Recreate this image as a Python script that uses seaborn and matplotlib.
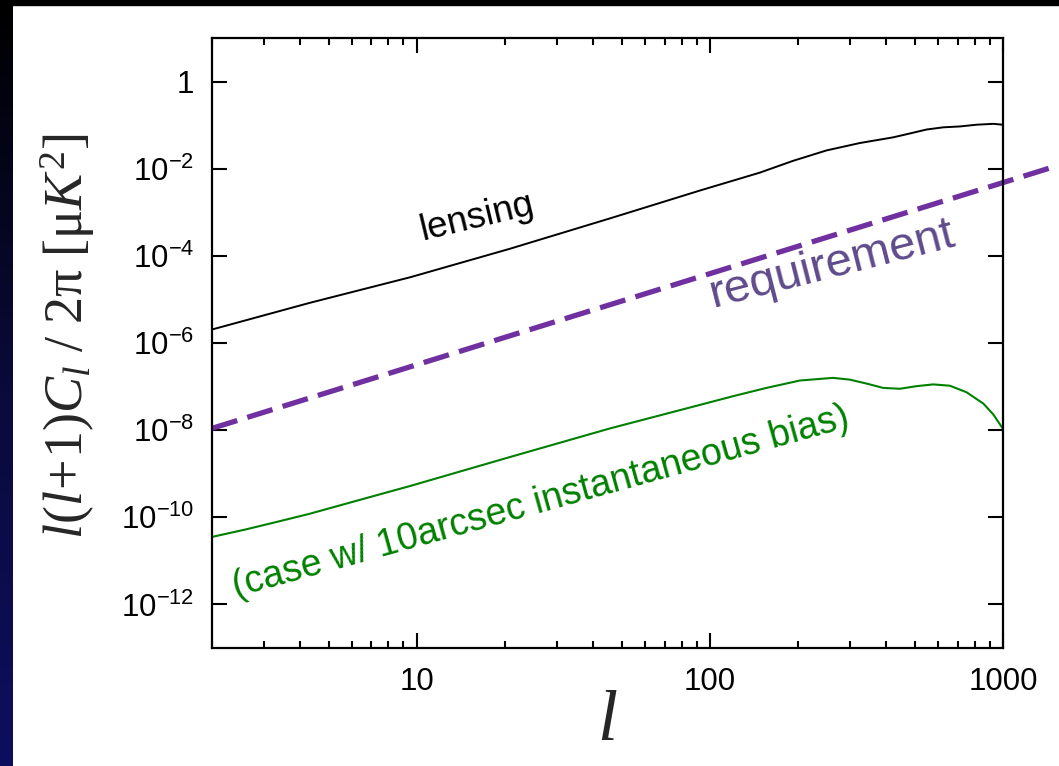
import numpy as np
import pandas as pd
import matplotlib
matplotlib.use("Agg")
import matplotlib.pyplot as plt
import seaborn as sns
from matplotlib.colors import LinearSegmentedColormap
from matplotlib.patches import Rectangle
from matplotlib.ticker import FixedLocator, FixedFormatter, LogLocator, NullFormatter, NullLocator

# ---- data (multipole l, log10 of l(l+1)C_l/2pi) ----
lens_l = [2, 4.3, 9.5, 20.7, 45.6, 92.5, 148, 192, 250, 325, 422, 482, 549, 626, 713, 813, 927, 1000]
lens_log10 = [-5.69, -5.08, -4.49, -3.84, -3.14, -2.50, -2.09, -1.82, -1.58, -1.41, -1.28, -1.19,
              -1.10, -1.05, -1.03, -0.99, -0.97, -0.99]

bias_l = [2, 2.6, 3.4, 4.3, 7.5, 9.5, 20.7, 45.6, 92.5, 120, 156, 203, 263, 300, 342, 390, 445, 507,
          578, 659, 751, 857, 927, 1000]
bias_log10 = [-10.45, -10.28, -10.09, -9.92, -9.47, -9.28, -8.62, -7.96, -7.42, -7.22, -7.03, -6.86,
              -6.80, -6.84, -6.93, -7.03, -7.05, -6.99, -6.95, -6.98, -7.13, -7.39, -7.64, -7.97]

req_l = [2, 1550]
req_val = [1.1e-8, 1.2e-2]

ytick_vals = [1, 1e-2, 1e-4, 1e-6, 1e-8, 1e-10, 1e-12]
ytick_text = ["1", r"$\mathsf{10^{-2}}$", r"$\mathsf{10^{-4}}$", r"$\mathsf{10^{-6}}$",
              r"$\mathsf{10^{-8}}$", r"$\mathsf{10^{-10}}$", r"$\mathsf{10^{-12}}$"]
xtick_vals = [10, 100, 1000]
xtick_text = ["10", "100", "1000"]

lens = pd.DataFrame({"l": lens_l, "cl": np.power(10.0, lens_log10)})
bias = pd.DataFrame({"l": bias_l, "cl": np.power(10.0, bias_log10)})
req = pd.DataFrame({"l": req_l, "cl": req_val})

sns.set_theme(style="ticks")
plt.rcParams["font.family"] = ["Liberation Sans", "DejaVu Sans"]
plt.rcParams["mathtext.fontset"] = "custom"
plt.rcParams["mathtext.rm"] = "Liberation Serif"
plt.rcParams["mathtext.it"] = "Liberation Serif:italic"
plt.rcParams["mathtext.bf"] = "Liberation Serif:bold"
plt.rcParams["mathtext.sf"] = "Liberation Sans"

fig = plt.figure(figsize=(10.59, 7.66), dpi=100, facecolor="white")
ax = fig.add_axes([0.2002, 0.1540, 0.7469, 0.7964])

# slide background edges
fig.patches.append(Rectangle((0, 1 - 5 / 766), 1, 5 / 766, transform=fig.transFigure,
                             color="black", zorder=0))
side = fig.add_axes([0, 0, 13 / 1059, 1])
navy = LinearSegmentedColormap.from_list("navy", ["#000000", "#0a0a3a", "#0e0e60"])
side.imshow(np.linspace(0, 1, 256).reshape(-1, 1), aspect="auto", cmap=navy)
side.set_axis_off()

sns.lineplot(data=lens, x="l", y="cl", color="black", linewidth=1.4, ax=ax)
sns.lineplot(data=bias, x="l", y="cl", color="#008000", linewidth=1.5, ax=ax)
sns.lineplot(data=req, x="l", y="cl", color="#7030A0", linewidth=3.8,
             linestyle=(0, (5, 2.0)), clip_on=False, ax=ax)

ax.set_xscale("log")
ax.set_yscale("log")
ax.set_xlim(2, 1000)
ax.set_ylim(1e-13, 10)

ax.yaxis.set_major_locator(FixedLocator(ytick_vals))
ax.yaxis.set_major_formatter(FixedFormatter(ytick_text))
ax.yaxis.set_minor_locator(NullLocator())
ax.xaxis.set_major_locator(FixedLocator(xtick_vals))
ax.xaxis.set_major_formatter(FixedFormatter(xtick_text))
ax.xaxis.set_minor_locator(LogLocator(base=10, subs=np.arange(2, 10)))
ax.xaxis.set_minor_formatter(NullFormatter())

ax.tick_params(which="both", direction="in", top=True, right=True, width=1.5, colors="black",
               labelsize=22.5)
ax.tick_params(which="major", length=10.5)
ax.tick_params(which="minor", length=5)
ax.tick_params(axis="x", pad=14)
ax.tick_params(axis="y", pad=13)
for s in ax.spines.values():
    s.set_linewidth(1.6)
    s.set_color("black")

ax.set_xlabel(r"$l$", fontsize=52)
ax.xaxis.set_label_coords(0.5, -0.065)
ax.set_ylabel(r"$l(l\!+\!\mathit{1})C_l\ /\ 2\mathrm{\pi}\ [\mathrm{\mu}K^2]$", fontsize=39)
ax.yaxis.set_label_coords(-0.145, 0.512)

ax.text(16.1, 7.6e-4, "lensing", fontsize=26.5, rotation=13.5, rotation_mode="anchor",
        ha="center", va="center", color="black")
ax.text(261, 6.3e-5, "requirement", fontsize=34, rotation=14.3, rotation_mode="anchor",
        ha="center", va="center", color="#5F4B8B")
ax.text(26.5, 2.2e-10, "(case w/ 10arcsec instantaneous bias)", fontsize=27, rotation=15.5,
        rotation_mode="anchor", ha="center", va="center", color="#008000")

fig.savefig("out.png", dpi=100, facecolor="white")
